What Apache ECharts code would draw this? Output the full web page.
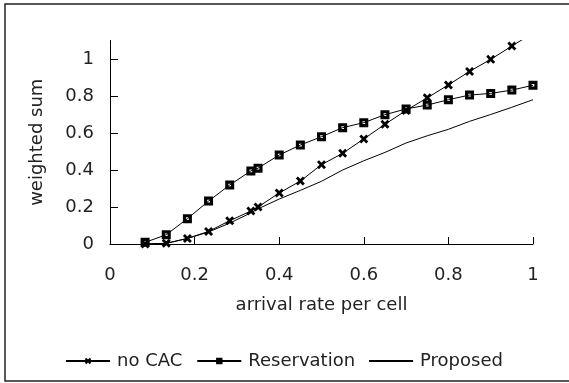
<!DOCTYPE html>
<html>
<head>
<meta charset="utf-8">
<script src="https://cdn.jsdelivr.net/npm/echarts@6/dist/echarts.min.js"></script>
<style>
  html, body { margin: 0; padding: 0; background: #fff; }
  #chart { width: 569px; height: 383px; }
</style>
</head>
<body>
<div id="chart"></div>
<script>
// arrival rate per cell
var rates = [0.083, 0.133, 0.183, 0.233, 0.283, 0.333, 0.35, 0.4, 0.45, 0.5, 0.55, 0.6, 0.65, 0.7, 0.75, 0.8, 0.85, 0.9, 0.95, 1.0];
var noCAC = [0, 0.004, 0.03, 0.068, 0.126, 0.178, 0.2, 0.276, 0.34, 0.429, 0.49, 0.568, 0.647, 0.722, 0.79, 0.86, 0.933, 0.998, 1.07, 1.14];
var reservation = [0.009, 0.05, 0.137, 0.232, 0.319, 0.395, 0.41, 0.481, 0.535, 0.58, 0.629, 0.656, 0.699, 0.73, 0.751, 0.78, 0.805, 0.814, 0.832, 0.858];
var proposed = [0, 0.003, 0.03, 0.065, 0.113, 0.168, 0.19, 0.243, 0.29, 0.339, 0.4, 0.45, 0.495, 0.546, 0.585, 0.62, 0.663, 0.7, 0.739, 0.78];
var yTicks = [0, 0.2, 0.4, 0.6, 0.8, 1];
var names = ['no CAC', 'Reservation', 'Proposed'];

var crossSym = 'path://M0,2.2L2.2,0L5,2.8L7.8,0L10,2.2L7.2,5L10,7.8L7.8,10L5,7.2L2.2,10L0,7.8L2.8,5Z';
var boxSym = 'path://M0,0H10V10H0Z M3.5,3.5V6.5H6.5V3.5Z';
var lineIcon = 'path://M0,0H44V1.8H0Z';

function pairs(ys) {
  return rates.map(function (x, i) { return [x, ys[i]]; });
}

var mychart = echarts.init(document.getElementById('chart'));
var textColor = '#222';
var font = 'DejaVu Sans';

var option = {
  animation: false,
  graphic: [{
    type: 'rect',
    shape: { x: 5, y: 4, width: 600, height: 377 },
    style: { fill: 'none', stroke: '#222', lineWidth: 1.5 }
  }],
  grid: { left: 110, right: 36, top: 40.5, bottom: 139, containLabel: false },
  legend: {
    left: 60,
    top: 347,
    itemWidth: 44,
    itemHeight: 8,
    itemGap: 14,
    textStyle: { color: textColor, fontSize: 18, fontFamily: font, padding: [0, 0, 0, 2] },
    data: [names[0], names[1], { name: names[2], icon: lineIcon, itemStyle: { color: '#000' } }]
  },
  xAxis: {
    type: 'value',
    min: 0,
    max: 1,
    interval: 0.2,
    name: 'arrival rate per cell',
    nameLocation: 'middle',
    nameGap: 52,
    nameTextStyle: { color: textColor, fontSize: 18, fontFamily: font },
    axisLine: { show: true, lineStyle: { color: '#000', width: 1 } },
    axisTick: { show: true, inside: true, length: 7, lineStyle: { color: '#000' } },
    axisLabel: { color: textColor, fontSize: 18, fontFamily: font, margin: 22 },
    splitLine: { show: false }
  },
  yAxis: {
    type: 'value',
    min: 0,
    max: 1.1,
    name: 'weighted sum',
    nameLocation: 'middle',
    nameGap: 64,
    nameTextStyle: { color: textColor, fontSize: 18, fontFamily: font },
    axisLine: { show: true, lineStyle: { color: '#000', width: 1 } },
    axisTick: { show: true, inside: true, length: 8, customValues: yTicks, lineStyle: { color: '#000' } },
    axisLabel: { color: textColor, fontSize: 18, fontFamily: font, margin: 16, customValues: yTicks },
    splitLine: { show: false }
  },
  series: [{
    name: names[0],
    type: 'line',
    data: pairs(noCAC),
    symbol: crossSym,
    symbolSize: 9,
    showAllSymbol: true,
    itemStyle: { color: '#000' },
    lineStyle: { color: '#000', width: 1 }
  }, {
    name: names[1],
    type: 'line',
    data: pairs(reservation),
    symbol: boxSym,
    symbolSize: 9,
    showAllSymbol: true,
    itemStyle: { color: '#000' },
    lineStyle: { color: '#000', width: 1 }
  }, {
    name: names[2],
    type: 'line',
    data: pairs(proposed),
    symbol: 'none',
    itemStyle: { color: '#000' },
    lineStyle: { color: '#000', width: 1 }
  }]
};

mychart.setOption(option);
</script>
</body>
</html>
